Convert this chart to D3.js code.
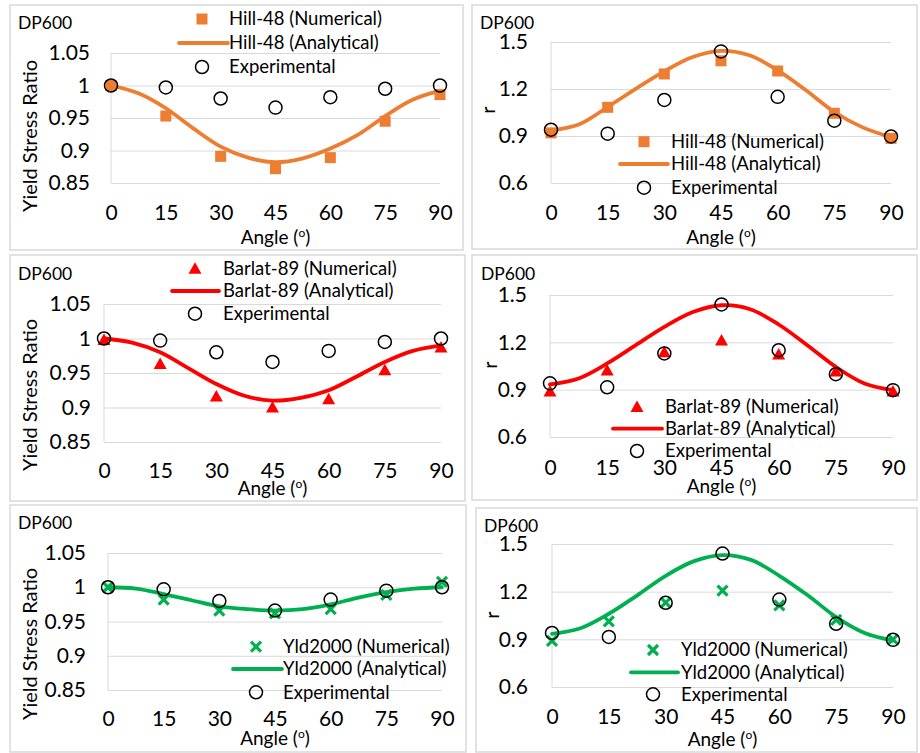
<!DOCTYPE html>
<html><head><meta charset="utf-8">
<script src="https://cdn.jsdelivr.net/npm/d3@7"></script>
<style>
html,body{margin:0;padding:0;background:#fff;}
text{font-family:Lato,"Open Sans",sans-serif;fill:#000;}
</style></head>
<body><svg id="chart" width="920" height="753"></svg>
<script>
// ---------- DATA ----------
const angles = [0, 15, 30, 45, 60, 75, 90];
const curveAngles = [0, 7.5, 15, 22.5, 30, 37.5, 45, 52.5, 60, 67.5, 75, 82.5, 90];
const xTickLabels = ["0", "15", "30", "45", "60", "75", "90"];
const yieldTicks = [0.85, 0.9, 0.95, 1, 1.05];
const yieldTickLabels = ["0.85", "0.9", "0.95", "1", "1.05"];
const rTicks = [0.6, 0.9, 1.2, 1.5];
const rTickLabels = ["0.6", "0.9", "1.2", "1.5"];

const expYield = [1.0, 0.997, 0.980, 0.966, 0.982, 0.995, 1.0];
const expR = [0.94, 0.915, 1.13, 1.44, 1.15, 0.998, 0.897];

const hillYieldNum = [1.0, 0.953, 0.891, 0.872, 0.889, 0.945, 0.986];
const hillYieldAna = [1.0, 0.988, 0.965, 0.934, 0.906, 0.889, 0.882, 0.888, 0.903, 0.924, 0.953, 0.978, 0.992];
const hillRNum = [0.92, 1.083, 1.296, 1.38, 1.315, 1.045, 0.885];
const hillRAna = [0.935, 0.975, 1.085, 1.203, 1.313, 1.404, 1.443, 1.415, 1.319, 1.192, 1.053, 0.955, 0.893];

const barlatYieldNum = [0.998, 0.963, 0.916, 0.90, 0.912, 0.954, 0.987];
const barlatYieldAna = [1.0, 0.994, 0.98, 0.957, 0.934, 0.917, 0.91, 0.914, 0.925, 0.945, 0.966, 0.982, 0.99];
const barlatRNum = [0.889, 1.022, 1.137, 1.212, 1.123, 1.015, 0.889];
const barlatRAna = [0.933, 0.971, 1.066, 1.182, 1.298, 1.392, 1.435, 1.41, 1.313, 1.182, 1.044, 0.939, 0.897];

const yldYieldNum = [1.0, 0.982, 0.966, 0.962, 0.968, 0.989, 1.008];
const yldYieldAna = [1.0, 0.998, 0.990, 0.981, 0.972, 0.968, 0.966, 0.968, 0.975, 0.985, 0.993, 0.998, 1.0];
const yldRNum = [0.89, 1.013, 1.131, 1.207, 1.114, 1.022, 0.9];
const yldRAna = [0.935, 0.97, 1.061, 1.177, 1.30, 1.392, 1.43, 1.40, 1.30, 1.177, 1.04, 0.94, 0.892];

const modelNames = ["Hill-48", "Barlat-89", "Yld2000"];
const materialLabel = "DP600";
// ---------- STYLE / LAYOUT ----------
const colors = {"Hill-48": "#ED7D31", "Barlat-89": "#FF0000", "Yld2000": "#00B050"};
const markers = {"Hill-48": "square", "Barlat-89": "triangle", "Yld2000": "cross"};

const panels = [
  {box:[10,5,453,245], x0:111, x1:440, yTop:53, yBot:183, dom:[0.85,1.05], ticks:yieldTicks, tl:yieldTickLabels,
   num:hillYieldNum, ana:hillYieldAna, exp:expYield, model:"Hill-48", yTitle:"Yield Stress Ratio", ytx:30, yty:136,
   leg:{mx:202, tx:229, lx0:179, lx1:228, ys:[19,43,67]}, gap:21, dp:[18,23], xty:213, xtt:237},
  {box:[472,5,445,244], x0:551, x1:891, yTop:42, yBot:183, dom:[0.6,1.5], ticks:rTicks, tl:rTickLabels,
   num:hillRNum, ana:hillRAna, exp:expR, model:"Hill-48", yTitle:"r", ytx:488, yty:110,
   leg:{mx:644, tx:671, lx0:620, lx1:668, ys:[141.7,164,187.7]}, gap:23, dp:[480,23], xty:213, xtt:237},
  {box:[10,255,455,246], x0:104, x1:441, yTop:304, yBot:442, dom:[0.85,1.05], ticks:yieldTicks, tl:yieldTickLabels,
   num:barlatYieldNum, ana:barlatYieldAna, exp:expYield, model:"Barlat-89", yTitle:"Yield Stress Ratio", ytx:30, yty:395,
   leg:{mx:195, tx:223, lx0:172, lx1:219, ys:[268.7,291,313.7]}, gap:13, dp:[18,274], xty:471, xtt:488},
  {box:[472,255,445,245], x0:550, x1:893, yTop:295, yBot:437, dom:[0.6,1.5], ticks:rTicks, tl:rTickLabels,
   num:barlatRNum, ana:barlatRAna, exp:expR, model:"Barlat-89", yTitle:"r", ytx:490, yty:365,
   leg:{mx:637, tx:665, lx0:613, lx1:662, ys:[407,428.7,451]}, gap:23, dp:[481,274], xty:468, xtt:486},
  {box:[10,505,456,247], x0:108, x1:442, yTop:553, yBot:690, dom:[0.85,1.05], ticks:yieldTicks, tl:yieldTickLabels,
   num:yldYieldNum, ana:yldYieldAna, exp:expYield, model:"Yld2000", yTitle:"Yield Stress Ratio", ytx:30, yty:644,
   leg:{mx:256, tx:283, lx0:233, lx1:282, ys:[646.7,669,692.3]}, gap:22, dp:[18,523], xty:719, xtt:738},
  {box:[476,508,441,244], x0:552, x1:893, yTop:544, yBot:687, dom:[0.6,1.5], ticks:rTicks, tl:rTickLabels,
   num:yldRNum, ana:yldRAna, exp:expR, model:"Yld2000", yTitle:"r", ytx:492, yty:615,
   leg:{mx:653, tx:681, lx0:631, lx1:678, ys:[650,672.3,694.3]}, gap:24, dp:[484,526], xty:717, xtt:739}
];

const svg = d3.select("#chart");
svg.append("rect").attr("width",920).attr("height",753).attr("fill","#fff");

function drawMarker(g, type, cx, cy, color) {
  if (type === "square") {
    g.append("rect").attr("x",cx-5.5).attr("y",cy-5.5).attr("width",11).attr("height",11).attr("fill",color);
  } else if (type === "triangle") {
    g.append("path").attr("d",`M${cx},${cy-6.5}L${cx+6.5},${cy+5}L${cx-6.5},${cy+5}Z`).attr("fill",color);
  } else if (type === "cross") {
    g.append("path").attr("d",`M${cx-5},${cy-5}L${cx+5},${cy+5}M${cx-5},${cy+5}L${cx+5},${cy-5}`)
      .attr("stroke",color).attr("stroke-width",3.2).attr("fill","none");
  } else if (type === "circle") {
    g.append("circle").attr("cx",cx).attr("cy",cy).attr("r",6.5).attr("fill","none")
      .attr("stroke","#000").attr("stroke-width",1.5);
  }
}

panels.forEach(p => {
  const g = svg.append("g");
  g.append("rect").attr("x",p.box[0]).attr("y",p.box[1]).attr("width",p.box[2]).attr("height",p.box[3])
    .attr("fill","#fff").attr("stroke","#d9d9d9").attr("stroke-width",1.5);

  const x = d3.scaleLinear().domain([0,90]).range([p.x0,p.x1]);
  const y = d3.scaleLinear().domain(p.dom).range([p.yBot,p.yTop]);
  const color = colors[p.model];

  // y axis with gridlines
  const ya = g.append("g").attr("transform",`translate(${p.x0},0)`)
    .call(d3.axisLeft(y).tickValues(p.ticks).tickFormat((d,i)=>p.tl[i]).tickSize(-(p.x1-p.x0)).tickPadding(p.gap));
  ya.select(".domain").remove();
  ya.selectAll("line").attr("stroke","#d9d9d9").attr("stroke-width",1);
  ya.selectAll("text").attr("font-size",21).attr("font-family","Lato").attr("fill","#000");
  g.append("line").attr("x1",p.x0).attr("x2",p.x0).attr("y1",p.yTop).attr("y2",p.yBot)
    .attr("stroke","#d9d9d9").attr("stroke-width",1);

  // x axis
  const xa = g.append("g").attr("transform",`translate(0,${p.yBot})`)
    .call(d3.axisBottom(x).tickValues(angles).tickFormat((d,i)=>xTickLabels[i]).tickSize(0).tickPadding(0));
  xa.select(".domain").remove();
  xa.selectAll("text").attr("font-size",21).attr("font-family","Lato").attr("fill","#000")
    .attr("y",p.xty-p.yBot).attr("dy","0.35em");

  // titles
  const at = g.append("text").attr("x",(p.x0+p.x1)/2).attr("y",p.xtt).attr("dy","0.35em")
    .attr("text-anchor","middle").attr("font-size",19);
  at.append("tspan").text("Angle (");
  at.append("tspan").text("o").attr("font-size",12).attr("dy","-0.55em");
  at.append("tspan").text(")").attr("dy","0.35em");
  g.append("text").attr("transform",`translate(${p.ytx},${p.yty}) rotate(-90)`).attr("text-anchor","middle")
    .attr("dy","0.35em").attr("font-size",20).text(p.yTitle);
  g.append("text").attr("x",p.dp[0]).attr("y",p.dp[1]).attr("dy","0.35em").attr("font-size",17.5).text(materialLabel);

  // series
  const mk = markers[p.model];
  const numG = g.append("g");
  angles.forEach((a,i)=>drawMarker(numG, mk, x(a), y(p.num[i]), color));
  const line = d3.line().x((d,i)=>x(curveAngles[i])).y(d=>y(d)).curve(d3.curveCatmullRom.alpha(0.5));
  g.append("path").datum(p.ana).attr("d",line).attr("fill","none").attr("stroke",color)
    .attr("stroke-width",3.8).attr("stroke-linecap","round");
  const expG = g.append("g");
  angles.forEach((a,i)=>drawMarker(expG, "circle", x(a), y(p.exp[i]), "#000"));

  // legend
  const L = p.leg;
  const lg = g.append("g");
  drawMarker(lg, mk, L.mx, L.ys[0], color);
  lg.append("line").attr("x1",L.lx0).attr("x2",L.lx1).attr("y1",L.ys[1]).attr("y2",L.ys[1])
    .attr("stroke",color).attr("stroke-width",3.8).attr("stroke-linecap","round");
  drawMarker(lg, "circle", L.mx, L.ys[2], "#000");
  const labels = [p.model+" (Numerical)", p.model+" (Analytical)", "Experimental"];
  labels.forEach((t,i)=>lg.append("text").attr("x",L.tx).attr("y",L.ys[i]).attr("dy","0.35em")
    .attr("font-size",18.5).text(t));
});
</script></body></html>
